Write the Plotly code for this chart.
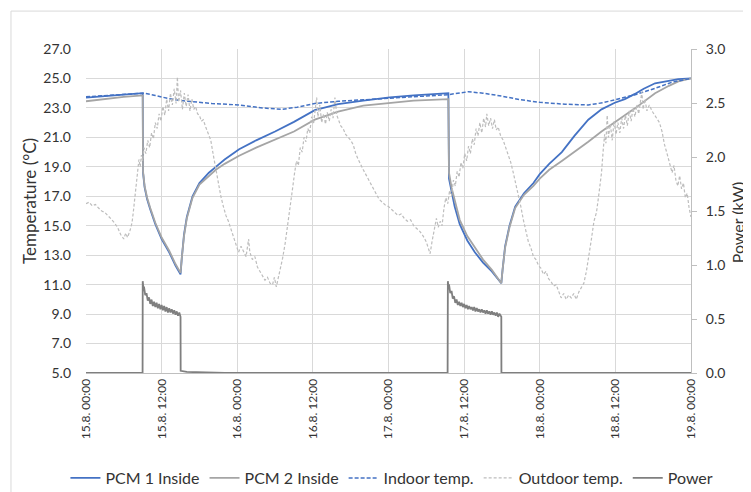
import pandas as pd
import plotly.graph_objects as go

START = pd.Timestamp("2021-08-15 00:00")

# ---- data (hours since 15.8. 00:00) ----
pcm1_hours = [0, 3, 6, 9.0, 9.05, 9.3, 9.7, 10.2, 11.0, 12.0, 13.2, 14.2, 15.0, 15.2, 15.55, 16.0, 16.9, 18.0, 19.5,
              20.6, 22.0, 24.3, 27, 30, 33, 36.3, 40, 44, 48.2, 52, 57.5, 57.6, 58.0, 58.5, 59.3, 60.5, 61.7, 63.0,
              64.4, 65.9, 66.1, 66.5, 67.2, 68.1, 69.5, 71, 72, 73.5, 75.5, 77.5, 79.7, 81.8, 83.9, 85.5, 87.1,
              88.5, 90.3, 92.5, 94, 96]
pcm1_temp = [23.7, 23.82, 23.9, 24.0, 18.6, 17.6, 16.8, 16.1, 15.1, 14.1, 13.2, 12.3, 11.7, 12.8, 14.4, 15.6, 17.0,
             17.9, 18.6, 19.0, 19.5, 20.2, 20.8, 21.4, 22.05, 22.85, 23.25, 23.5, 23.72, 23.85, 24.0, 18.2, 17.3,
             16.3, 15.1, 14.0, 13.2, 12.5, 11.9, 11.1, 12.0, 13.6, 15.0, 16.3, 17.2, 17.9, 18.5, 19.2, 20.0, 21.1,
             22.2, 22.9, 23.35, 23.6, 23.95, 24.3, 24.67, 24.85, 24.95, 25.0]

pcm2_hours = [0, 3, 6, 9.0, 9.05, 9.3, 9.7, 10.2, 11.0, 12.0, 13.2, 14.2, 15.0, 15.2, 15.55, 16.0, 16.9, 18.0, 19.5,
              20.6, 22.0, 24.3, 27, 30, 33, 36.3, 40, 44, 48.2, 52, 57.5, 57.6, 58.0, 58.5, 59.3, 60.5, 61.7, 63.0,
              64.4, 65.9, 66.1, 66.5, 67.2, 68.1, 69.5, 71, 72, 73.5, 75.5, 77.5, 79.7, 81.8, 83.9, 85.5, 87.1,
              88.5, 90.3, 92.5, 94, 96]
pcm2_temp = [23.45, 23.62, 23.75, 23.85, 18.7, 17.7, 16.9, 16.2, 15.2, 14.2, 13.3, 12.4, 11.8, 12.8, 14.3, 15.5, 16.9,
             17.8, 18.4, 18.8, 19.2, 19.75, 20.3, 20.85, 21.4, 22.2, 22.75, 23.15, 23.35, 23.5, 23.6, 18.6, 17.6,
             16.7, 15.4, 14.3, 13.5, 12.7, 12.0, 11.1, 12.0, 13.5, 14.9, 16.2, 17.1, 17.7, 18.2, 18.8, 19.4, 20.0,
             20.7, 21.4, 22.05, 22.5, 22.97, 23.4, 24.0, 24.5, 24.8, 25.0]

indoor_hours = [0, 4, 9.2, 11, 12.9, 15, 17.1, 20, 24.3, 28, 31, 33.5, 36.3, 40, 44, 48.2, 52, 57.5, 60.7, 63, 66,
                69, 72, 76, 79.7, 82, 83.9, 87, 90.3, 93, 96]
indoor_temp = [23.75, 23.85, 24.0, 23.85, 23.65, 23.5, 23.4, 23.3, 23.2, 23.0, 22.9, 23.05, 23.3, 23.45, 23.55,
               23.65, 23.75, 23.9, 24.1, 24.0, 23.8, 23.55, 23.38, 23.25, 23.2, 23.35, 23.55, 23.88, 24.33, 24.75,
               25.0]

outdoor_hours = [0, 0.5, 1, 1.5, 2, 2.5, 3, 3.5, 4, 4.5, 5, 5.5, 6, 6.3, 6.6, 7, 7.3, 7.5, 7.8, 8.0, 8.2, 8.4, 8.6,
                 8.8, 9.0, 9.2, 9.5, 9.8, 10.1, 10.4, 10.7, 11.0, 11.3, 11.6, 11.9, 12.2, 12.5, 12.8, 13.1, 13.4,
                 13.7, 14.0, 14.3, 14.5, 14.7, 15.0, 15.3, 15.6, 15.9, 16.2, 16.5, 16.8, 17.1, 17.4, 17.7, 18.0,
                 18.3, 18.6, 19.0, 19.4, 19.8, 20.2, 20.6, 21.0, 21.4, 21.8, 22.2, 22.6, 23.0, 23.4, 23.8, 24.2,
                 24.6, 25.0, 25.4, 25.8, 26.0, 26.4, 26.8, 27.2, 27.6, 28.0, 28.4, 28.8, 29.2, 29.6, 29.9, 30.2,
                 30.5, 30.8, 31.2, 31.6, 32.0, 32.4, 32.8, 33.1, 33.4, 33.7, 34.0, 34.3, 34.6, 34.9, 35.2, 35.5,
                 35.8, 36.1, 36.4, 36.6, 36.8, 37.1, 37.4, 37.7, 38.0, 38.3, 38.6, 38.9, 39.2, 39.5, 39.8, 40.1,
                 40.4, 40.8, 41.2, 41.6, 42.0, 42.4, 42.8, 43.2, 43.6, 44.0, 44.5, 45.0, 45.5, 46.0, 46.5, 47.0,
                 47.5, 48.0, 48.5, 49.0, 49.5, 50.0, 50.5, 51.0, 51.5, 52.0, 52.5, 53.0, 53.5, 54.0, 54.3, 54.6,
                 54.9, 55.2, 55.6, 55.9, 56.2, 56.5, 56.8, 57.1, 57.4, 57.7, 58.0, 58.3, 58.6, 58.9, 59.2, 59.5,
                 59.8, 60.1, 60.4, 60.7, 61.0, 61.3, 61.6, 61.9, 62.2, 62.5, 62.8, 63.1, 63.4, 63.6, 63.9, 64.2,
                 64.5, 64.8, 65.1, 65.4, 65.8, 66.2, 66.6, 67.0, 67.4, 67.8, 68.2, 68.6, 69.0, 69.4, 69.8, 70.2,
                 70.6, 71.0, 71.4, 71.8, 72.2, 72.6, 73.0, 73.4, 73.8, 74.2, 74.6, 75.0, 75.4, 75.8, 76.2, 76.6,
                 77.0, 77.4, 77.8, 78.2, 78.6, 79.0, 79.4, 79.8, 80.2, 80.6, 81.0, 81.4, 81.8, 82.1, 82.3, 82.5,
                 82.7, 82.9, 83.2, 83.5, 83.8, 84.1, 84.4, 84.7, 85.0, 85.3, 85.6, 85.9, 86.2, 86.5, 86.8, 87.1,
                 87.4, 87.7, 88.0, 88.2, 88.4, 88.7, 89.0, 89.4, 89.8, 90.2, 90.6, 91.0, 91.4, 91.8, 92.2, 92.6,
                 93.0, 93.3, 93.6, 93.9, 94.2, 94.5, 94.8, 95.1, 95.4, 95.7, 96.0]
outdoor_temp = [16.5, 16.6, 16.35, 16.45, 16.2, 16.0, 15.9, 15.7, 15.45, 15.2, 14.9, 14.4, 14.1, 14.5, 14.2, 14.7,
                15.2, 15.9, 17.2, 18.1, 18.8, 19.5, 19.0, 19.8, 19.4, 20.3, 19.9, 20.8, 20.3, 21.3, 20.9, 22.0,
                21.6, 22.6, 22.1, 23.1, 22.5, 23.6, 22.8, 24.0, 23.2, 24.3, 23.3, 25.1, 23.4, 24.2, 22.9, 24.0,
                23.1, 23.9, 22.8, 23.6, 22.9, 23.1, 22.6, 22.5, 22.1, 22.2, 21.7, 21.3, 20.8, 19.8, 18.8, 17.8,
                17.0, 16.3, 15.7, 15.3, 14.8, 14.3, 13.7, 13.2, 13.6, 13.3, 12.9, 14.1, 13.2, 12.7, 12.9, 12.2,
                11.9, 11.6, 11.3, 11.5, 11.1, 11.0, 11.5, 10.85, 11.4, 11.9, 12.8, 13.8, 15.2, 16.4, 17.6, 18.6,
                19.4, 19.1, 20.3, 20.0, 21.0, 20.7, 21.6, 21.3, 22.4, 21.9, 23.0, 23.7, 22.4, 23.2, 22.0, 22.6,
                21.9, 22.7, 22.1, 22.9, 22.3, 23.7, 22.5, 22.2, 21.8, 21.6, 21.2, 21.0, 20.8, 20.5, 19.9, 19.5,
                19.1, 18.8, 18.4, 18.0, 17.6, 17.2, 16.8, 16.6, 16.4, 16.3, 16.1, 15.9, 15.7, 15.8, 15.5, 15.3,
                15.4, 15.0, 14.8, 14.6, 14.3, 13.9, 13.5, 13.1, 13.9, 14.5, 15.5, 14.9, 15.3, 15.0, 16.2, 16.9,
                16.5, 17.4, 17.0, 18.1, 17.7, 18.7, 18.3, 19.3, 18.9, 19.9, 19.4, 20.4, 19.9, 20.9, 20.5, 21.6,
                21.1, 22.0, 21.3, 22.3, 21.7, 22.6, 21.8, 22.3, 21.6, 22.2, 21.5, 21.7, 21.1, 20.8, 20.3, 19.8,
                19.3, 18.6, 17.9, 17.1, 16.3, 15.4, 14.6, 13.9, 13.5, 12.9, 12.7, 12.3, 12.1, 11.7, 11.9, 11.4,
                11.2, 10.9, 11.0, 10.5, 10.1, 10.4, 10.0, 10.3, 10.1, 10.4, 10.0, 10.5, 10.8, 11.1, 11.9, 12.9,
                14.1, 15.3, 15.9, 17.2, 18.6, 20.3, 21.2, 20.6, 22.5, 21.0, 21.9, 20.8, 22.1, 21.2, 22.0, 21.3,
                22.3, 21.6, 22.5, 21.8, 22.8, 22.1, 23.0, 22.4, 23.2, 22.6, 23.5, 24.1, 22.9, 23.6, 22.8, 23.2,
                22.8, 22.5, 22.2, 22.0, 21.4, 20.5, 19.9, 19.2, 18.6, 19.1, 18.1, 17.7, 18.4, 17.5, 17.9, 16.9,
                17.2, 16.2, 15.6]

power_hours = [0, 8.98, 9.0, 9.1, 9.2, 9.4, 9.6, 9.8, 10.0, 10.2, 10.4, 10.6, 10.8, 11.0, 11.2, 11.4, 11.6, 11.8,
               12.0, 12.2, 12.4, 12.6, 12.8, 13.0, 13.2, 13.4, 13.6, 13.8, 14.0, 14.2, 14.4, 14.6, 14.8, 15.0,
               15.02, 16, 20, 22, 57.38, 57.42, 57.5, 57.6, 57.8, 58.0, 58.2, 58.4, 58.6, 58.8, 59.0, 59.2, 59.4,
               59.6, 59.8, 60.0, 60.2, 60.4, 60.6, 60.8, 61.0, 61.2, 61.4, 61.6, 61.8, 62.0, 62.2, 62.4, 62.6,
               62.8, 63.0, 63.2, 63.4, 63.6, 63.8, 64.0, 64.2, 64.4, 64.6, 64.8, 65.0, 65.2, 65.4, 65.6, 65.9,
               65.92, 96]
power_kw = [0, 0, 0.85, 0.79, 0.80, 0.72, 0.74, 0.67, 0.70, 0.64, 0.68, 0.62, 0.66, 0.61, 0.65, 0.60, 0.64, 0.59,
            0.63, 0.58, 0.62, 0.57, 0.61, 0.56, 0.60, 0.56, 0.59, 0.55, 0.58, 0.54, 0.57, 0.53, 0.56, 0.52,
            0.02, 0.01, 0.005, 0, 0, 0.85, 0.80, 0.82, 0.74, 0.76, 0.69, 0.71, 0.65, 0.68, 0.63, 0.66, 0.62,
            0.65, 0.61, 0.64, 0.60, 0.63, 0.59, 0.62, 0.59, 0.61, 0.58, 0.61, 0.57, 0.60, 0.57, 0.59, 0.56,
            0.59, 0.56, 0.58, 0.55, 0.58, 0.55, 0.57, 0.54, 0.57, 0.54, 0.56, 0.53, 0.56, 0.52, 0.55, 0.52,
            0, 0]

temp_ticks = [5, 7, 9, 11, 13, 15, 17, 19, 21, 23, 25, 27]
power_ticks = [0.0, 0.5, 1.0, 1.5, 2.0, 2.5, 3.0]


def to_time(hours):
    return START + pd.to_timedelta(hours, unit="h")


FONT = "Lato"
TXT = "#333333"
fig = go.Figure()
fig.add_trace(go.Scatter(x=to_time(pcm1_hours), y=pcm1_temp, name="PCM 1 Inside", mode="lines",
                         line=dict(color="#4472c4", width=1.8)))
fig.add_trace(go.Scatter(x=to_time(pcm2_hours), y=pcm2_temp, name="PCM 2 Inside", mode="lines",
                         line=dict(color="#a5a5a5", width=1.8)))
fig.add_trace(go.Scatter(x=to_time(indoor_hours), y=indoor_temp, name="Indoor temp.", mode="lines",
                         line=dict(color="#4472c4", width=1.5, dash="4px,2px")))
fig.add_trace(go.Scatter(x=to_time(outdoor_hours), y=outdoor_temp, name="Outdoor temp.", mode="lines",
                         line=dict(color="#bdbdbd", width=1.2, dash="3px,2px")))
fig.add_trace(go.Scatter(x=to_time(power_hours), y=power_kw, name="Power", mode="lines", yaxis="y2",
                         line=dict(color="#7f7f7f", width=1.8)))

# page body has an 8px default margin, so the figure is 8px smaller and margins shifted
fig.update_layout(
    width=743, height=484,
    margin=dict(l=78, r=60, t=41, b=119, autoexpand=False),
    paper_bgcolor="white", plot_bgcolor="white",
    font=dict(family=FONT, size=14, color=TXT),
    showlegend=True,
    legend=dict(orientation="h", x=-0.034, xanchor="left", y=-0.324, yanchor="middle",
                font=dict(family=FONT, size=16, color=TXT), itemwidth=30, tracegroupgap=0,
                bgcolor="rgba(0,0,0,0)"),
    xaxis=dict(type="date", range=[to_time(0), to_time(96)], dtick=12 * 3600 * 1000, tick0=to_time(0),
               tickformat="%-d.%-m. %H:%M", tickangle=-90, showgrid=True, gridcolor="#d9d9d9", gridwidth=1,
               showline=True, linecolor="#bfbfbf", linewidth=1, ticks="", zeroline=False, automargin=False,
               tickfont=dict(family=FONT, size=12, color=TXT)),
    yaxis=dict(range=[5, 27], tickvals=temp_ticks, tickformat=".1f", showgrid=True, gridcolor="#d9d9d9",
               gridwidth=1, zeroline=False, showline=False, ticks="", ticklabelstandoff=14, automargin=False,
               tickfont=dict(family=FONT, size=14, color=TXT)),
    yaxis2=dict(range=[0, 3], tickvals=power_ticks, tickformat=".1f", overlaying="y", side="right",
                showgrid=False, zeroline=False, showline=True, linecolor="#bfbfbf", linewidth=1,
                ticks="outside", ticklen=5, tickcolor="#bfbfbf", ticklabelstandoff=6, automargin=False,
                tickfont=dict(family=FONT, size=14, color=TXT)),
    annotations=[
        dict(text="Temperature (°C)", xref="paper", yref="paper", x=-0.0926, y=0.531, textangle=-90,
             showarrow=False, xanchor="center", yanchor="middle", font=dict(family=FONT, size=17, color=TXT)),
        dict(text="Power (kW)", xref="paper", yref="paper", x=1.0765, y=0.466, textangle=-90,
             showarrow=False, xanchor="center", yanchor="middle", borderpad=0,
             font=dict(family=FONT, size=16, color=TXT)),
    ],
    shapes=[dict(type="rect", xref="paper", yref="paper", x0=-0.124, x1=1.2, y0=-0.45, y1=1.117,
                 line=dict(color="#d9d9d9", width=1), fillcolor="rgba(0,0,0,0)", layer="below")],
)

fig.write_html("out.html")
